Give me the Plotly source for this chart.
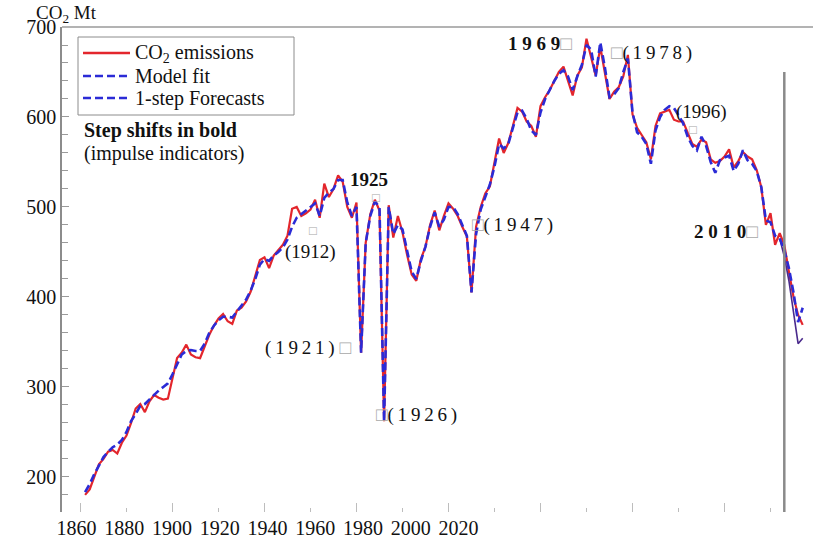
import plotly.graph_objects as go

FONT = "Liberation Serif"

years = list(range(1861, 2018))
co2_emissions = [
    180, 186, 200, 214, 220, 228, 230, 226, 238, 246,          # 1861-1870
    260, 276, 281, 272, 284, 291, 288, 286, 287, 310,          # 1871-1880
    332, 338, 347, 336, 333, 332, 345, 358, 368, 376,          # 1881-1890
    381, 373, 370, 385, 388, 395, 406, 424, 441, 444,          # 1891-1900
    432, 446, 452, 458, 468, 498, 500, 490, 493, 497,          # 1901-1910
    508, 488, 526, 511, 520, 535, 528, 500, 488, 505,          # 1911-1920
    338, 460, 492, 508, 496, 262, 502, 466, 490, 472,          # 1921-1930
    447, 425, 418, 442, 456, 480, 496, 474, 490, 504,          # 1931-1940
    498, 490, 478, 467, 405, 478, 500, 515, 523, 548,          # 1941-1950
    576, 560, 571, 590, 610, 606, 595, 590, 578, 612,          # 1951-1960
    622, 630, 640, 650, 656, 640, 624, 646, 655, 687,          # 1961-1970
    668, 646, 678, 650, 620, 628, 633, 645, 669, 603,          # 1971-1980
    588, 580, 572, 553, 590, 604, 606, 608, 597, 595,          # 1981-1990
    595, 582, 570, 567, 575, 572, 553, 549, 551, 556,          # 1991-2000
    564, 544, 551, 561, 556, 553, 541, 522, 480, 493,          # 2001-2010
    458, 471, 458, 428, 400, 380, 369,                         # 2011-2017
]

fit_years = list(range(1861, 2013))
model_fit = [
    183, 192, 203, 213, 222, 228, 233, 236, 241, 250,
    262, 270, 279, 281, 286, 292, 296, 300, 304, 314,
    326, 336, 340, 341, 340, 340, 348, 360, 368, 374,
    378, 378, 377, 384, 390, 397, 407, 420, 436, 442,
    440, 446, 450, 455, 464, 478, 488, 492, 496, 500,
    504, 490, 510, 516, 520, 530, 530, 505, 490, 500,
    338, 460, 490, 506, 500, 262, 500, 470, 480, 475,
    450, 428, 420, 440, 456, 478, 494, 478, 486, 500,
    500, 492, 480, 468, 405, 470, 497, 512, 525, 545,
    570, 565, 570, 588, 605, 607, 598, 585, 580, 605,
    620, 630, 640, 648, 652, 645, 630, 645, 658, 680,
    675, 645, 683, 655, 622, 625, 632, 650, 665, 605,
    583, 578, 570, 548, 585, 600, 608, 612, 610, 602,
    593, 578, 568, 563, 578, 568, 550, 538, 552, 555,
    557, 540, 548, 563, 552, 548, 540, 522, 485, 483,
    468, 465,
]

fc_years = [2012, 2013, 2014, 2015, 2016, 2017]
forecasts = [465, 452, 432, 405, 372, 388]
fc_lower = [465, 445, 418, 385, 348, 354]

FORECAST_ORIGIN = 2013
xtick_years = [1860, 1880, 1900, 1920, 1940, 1960, 1980, 2000, 2020]
xtick_labels = [str(v) for v in xtick_years]
ytick_vals = [200, 300, 400, 500, 600, 700]

RED = "#e3262c"
BLUE = "#2b2bd6"
PURPLE = "#4a2a8c"

fig = go.Figure()
fig.add_trace(go.Scatter(x=years, y=co2_emissions, mode="lines",
                         line=dict(color=RED, width=2.2), showlegend=False))
fig.add_trace(go.Scatter(x=fc_years, y=fc_lower, mode="lines",
                         line=dict(color=PURPLE, width=1.6), showlegend=False))
fig.add_trace(go.Scatter(x=fit_years, y=model_fit, mode="lines",
                         line=dict(color=BLUE, width=2.6, dash="8px,4px"), showlegend=False))
fig.add_trace(go.Scatter(x=fc_years, y=forecasts, mode="lines",
                         line=dict(color=BLUE, width=2.6, dash="8px,4px"), showlegend=False))
# invisible trace carrying the label axis
fig.add_trace(go.Scatter(x=xtick_years, y=[300] * len(xtick_years), xaxis="x2",
                         mode="lines", line=dict(width=0), opacity=0,
                         showlegend=False, hoverinfo="skip"))

L, R, T, B = 62, 0, 27, 26
W, H = 813, 538
pw, ph = W - L - R, H - T - B

def px(x):
    return (x - L) / pw

def py(y):
    return (H - B - y) / ph

shapes = [
    dict(type="line", xref="paper", yref="paper", x0=0, x1=1, y0=1, y1=1,
         line=dict(color="#9a9a9a", width=1.5)),
    dict(type="line", xref="x", yref="y", x0=FORECAST_ORIGIN, x1=FORECAST_ORIGIN,
         y0=161, y1=650, line=dict(color="#8a8a8a", width=2.5)),
    # legend box
    dict(type="rect", xref="paper", yref="paper", x0=px(78), x1=px(294), y0=py(115), y1=py(37),
         line=dict(color="#8c8c8c", width=1), fillcolor="rgba(255,255,255,0)"),
    dict(type="line", xref="paper", yref="paper", x0=px(83), x1=px(130), y0=py(53), y1=py(53),
         line=dict(color=RED, width=2.4)),
    dict(type="line", xref="paper", yref="paper", x0=px(83), x1=px(130), y0=py(76), y1=py(76),
         line=dict(color=BLUE, width=2.6, dash="8px,4px")),
    dict(type="line", xref="paper", yref="paper", x0=px(83), x1=px(130), y0=py(98), y1=py(98),
         line=dict(color=BLUE, width=2.6, dash="8px,4px")),
]

SQ = "<span style='color:#a8a8a8'>□</span>"
ts = "\u2009"

def spaced(s):
    return ts.join(list(s))

annotations = [
    # legend texts
    dict(xref="paper", yref="paper", x=px(133), y=py(53), text="CO<sub>2</sub> emissions",
         xanchor="left", yanchor="middle", font=dict(size=20)),
    dict(xref="paper", yref="paper", x=px(133), y=py(76), text="Model fit",
         xanchor="left", yanchor="middle", font=dict(size=20)),
    dict(xref="paper", yref="paper", x=px(133), y=py(98), text="1-step Forecasts",
         xanchor="left", yanchor="middle", font=dict(size=20)),
    dict(xref="paper", yref="paper", x=px(82), y=py(130), text="<b>Step shifts in bold</b>",
         xanchor="left", yanchor="middle", font=dict(size=20)),
    dict(xref="paper", yref="paper", x=px(82), y=py(153), text="(impulse indicators)",
         xanchor="left", yanchor="middle", font=dict(size=20)),
    # axis title
    dict(xref="paper", yref="paper", x=px(34), y=py(14), text="CO<sub>2</sub> Mt",
         xanchor="left", yanchor="middle", font=dict(size=19)),
    # event labels
    dict(x=1909.9, y=450, text="(1912)", xanchor="center", yanchor="middle", font=dict(size=19)),
    dict(x=1910.6, y=474, text=SQ, xanchor="center", yanchor="middle", font=dict(size=13)),
    dict(x=1922.7, y=531, text="<b>1925</b>", xanchor="center", yanchor="middle", font=dict(size=19)),
    dict(x=1924.2, y=511, text=SQ, xanchor="center", yanchor="middle", font=dict(size=13)),
    dict(x=1919.2, y=343, text=spaced("(1921)") + " " + SQ, xanchor="right", yanchor="middle",
         font=dict(size=19)),
    dict(x=1923.9, y=269, text=SQ + spaced("(1926)"), xanchor="left", yanchor="middle",
         font=dict(size=19)),
    dict(x=1944.6, y=480, text=SQ + spaced("(1947)"), xanchor="left", yanchor="middle",
         font=dict(size=19)),
    dict(x=1967.2, y=682, text="<b>1 9 6 9</b>" + SQ, xanchor="right", yanchor="middle",
         font=dict(size=19)),
    dict(x=1975.0, y=671, text=SQ + spaced("(1978)"), xanchor="left", yanchor="middle",
         font=dict(size=19)),
    dict(x=1995.1, y=606, text="(1996)", xanchor="center", yanchor="middle", font=dict(size=19)),
    dict(x=1993.1, y=586, text=SQ, xanchor="center", yanchor="middle", font=dict(size=13)),
    dict(x=2007.8, y=473, text="<b>2 0 1 0</b>" + SQ, xanchor="right", yanchor="middle",
         font=dict(size=19)),
]
for a in annotations:
    a.setdefault("showarrow", False)
    a.setdefault("xref", "x")
    a.setdefault("yref", "y")
    a["font"]["family"] = FONT
    a["font"]["color"] = "#111"

fig.update_layout(
    width=W, height=H,
    margin=dict(l=L, r=R, t=T, b=B, pad=0, autoexpand=False),
    paper_bgcolor="white", plot_bgcolor="white",
    font=dict(family=FONT, size=19, color="#111"),
    showlegend=False,
    shapes=shapes,
    annotations=annotations,
    xaxis=dict(
        range=[1855.98, 2019.24], showgrid=False, zeroline=False, showline=False,
        tickmode="linear", tick0=1860, dtick=20, ticks="inside", ticklen=9,
        tickcolor="#bdbdbd", tickwidth=1.2, showticklabels=False, automargin=False,
        minor=dict(dtick=10, tick0=1860, ticks="inside", ticklen=4, tickcolor="#bdbdbd"),
    ),
    xaxis2=dict(
        overlaying="x", anchor="y", side="bottom", automargin=False,
        range=[1853.93, 2168.5], showgrid=False, zeroline=False, showline=False,
        tickmode="array", tickvals=xtick_years, ticktext=xtick_labels, ticks="",
        tickfont=dict(size=20, family=FONT, color="#111"), ticklabelstandoff=2,
    ),
    yaxis=dict(
        range=[161, 700], showgrid=False, zeroline=False, automargin=False,
        showline=True, linecolor="#8c8c8c", linewidth=1.5,
        tickmode="array", tickvals=ytick_vals, ticks="inside", ticklen=7,
        tickcolor="#9a9a9a", tickfont=dict(size=20, family=FONT, color="#111"),
        ticksuffix="\u00a0\u00a0\u00a0\u00a0",
        minor=dict(dtick=20, tick0=200, ticks="inside", ticklen=6, tickcolor="#9a9a9a"),
    ),
)

fig.write_html(
    "out.html",
    config={"displayModeBar": False},
    post_script="document.body.style.margin='0px';document.body.style.overflow='hidden';",
)
